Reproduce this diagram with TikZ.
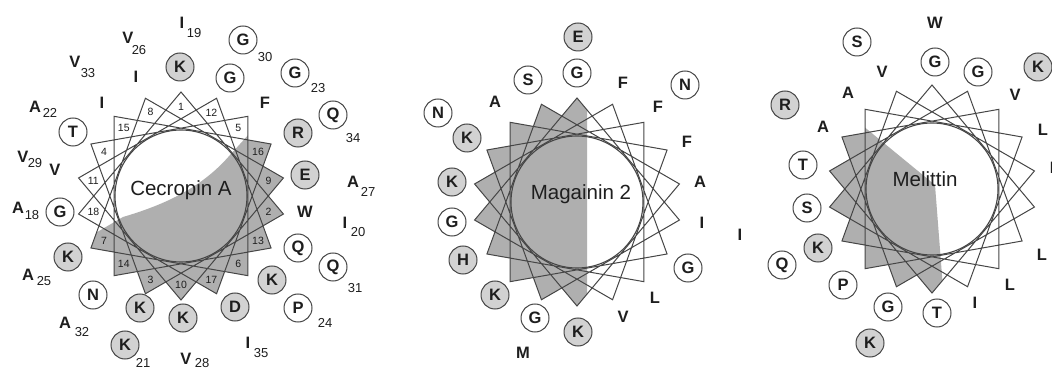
\documentclass[tikz,border=0pt]{standalone}
\usepackage{fontspec}
\setmainfont{Liberation Sans}
\definecolor{tipg}{RGB}{175,175,175}
\definecolor{resg}{RGB}{210,210,210}
\definecolor{ln}{RGB}{70,70,70}
\definecolor{tx}{RGB}{30,30,30}
\tikzset{
 resw/.style={circle,draw=ln,line width=1pt,fill=white,minimum size=28pt,inner sep=0pt,font=\fontsize{16.5}{16.5}\selectfont\bfseries,text=tx},
 resgr/.style={resw,fill=resg},
 aa/.style={inner sep=0pt,font=\fontsize{16.5}{16.5}\selectfont\bfseries,text=tx},
 sub/.style={inner sep=0pt,font=\fontsize{13}{13}\selectfont,text=tx},
 num/.style={inner sep=0pt,font=\fontsize{10.5}{10.5}\selectfont,text=tx},
 ttl/.style={inner sep=0pt,font=\fontsize{20.5}{20.5}\selectfont,text=tx},
 starline/.style={draw=ln,line width=1pt,line join=miter},
 ring/.style={draw=ln,line width=1.1pt},
}
\newcommand{\hstar}[2]{({#1},{#2-104}) \foreach \k in {1,...,17}{ -- ({#1+104*cos(90-100*\k)},{#2-104*sin(90-100*\k)}) } -- cycle}
\begin{document}
\begin{tikzpicture}[x=1pt,y=-1pt]
\clip (0,0) rectangle (1052,371);
\fill[white] (0,0) rectangle (1052,371);
% ---------------- Cecropin A ----------------
\begin{scope}
\clip (20,277) -- (123,217) .. controls (160,206) and (200,190) .. (230,155) -- (300,78) -- (400,78) -- (400,400) -- (20,400) -- cycle;
\fill[tipg] \hstar{181}{196};
\end{scope}
\draw[starline] \hstar{181}{196};
\draw[ring] (181,196) circle[radius=66pt];
\foreach \k in {0,...,17}{
  \pgfmathtruncatemacro{\n}{\k+1}
  \node[num] (cn\n) at ({181+89*cos(90-100*\k)},{196-89*sin(90-100*\k)}) {\n};
}
\node[ttl] (ctitle) at (181,190) {Cecropin A};
% circles
\node[resgr] (c1) at (180,67) {K};
\node[resw] (c30) at (243,40) {G};
\node[resw] (c12) at (230,78) {G};
\node[resw] (c23) at (295,73) {G};
\node[resw] (c34) at (333,115) {Q};
\node[resgr] (c16) at (298,133) {R};
\node[resgr] (c9) at (305,175) {E};
\node[resw] (c13) at (298,248) {Q};
\node[resw] (c31) at (333,267) {Q};
\node[resgr] (c6) at (272,280) {K};
\node[resw] (c24) at (298,308) {P};
\node[resgr] (c17) at (235,307) {D};
\node[resgr] (c10) at (183,318) {K};
\node[resgr] (c3) at (140,308) {K};
\node[resgr] (c21) at (125,345) {K};
\node[resw] (c14) at (93,295) {N};
\node[resgr] (c7) at (68,257) {K};
\node[resw] (c18) at (60,212) {G};
\node[resw] (c4) at (73,132) {T};
% plain letters
\node[aa] (c19) at (182,23) {I};
\node[aa] (c26) at (128,38) {V};
\node[aa] (c33) at (75,62) {V};
\node[aa] (c8) at (136,77) {I};
\node[aa] (c15) at (102,103) {I};
\node[aa] (c22) at (35,107) {A};
\node[aa] (c29) at (23,157) {V};
\node[aa] (c11) at (55,170) {V};
\node[aa] (c5) at (265,103) {F};
\node[aa] (c27) at (353,182) {A};
\node[aa] (c2) at (305,212) {W};
\node[aa] (c20) at (345,223) {I};
\node[aa] (cA18) at (18,208) {A};
\node[aa] (c25) at (28,275) {A};
\node[aa] (c32) at (65,323) {A};
\node[aa] (c28) at (186,359) {V};
\node[aa] (c35) at (248,343) {I};
% subscripts
\node[sub] (s19) at (194,33) {19};
\node[sub] (s26) at (139,50) {26};
\node[sub] (s33) at (88,73) {33};
\node[sub] (s22) at (50,113) {22};
\node[sub] (s29) at (35,163) {29};
\node[sub] (s30) at (265,57) {30};
\node[sub] (s23) at (318,88) {23};
\node[sub] (s34) at (353,138) {34};
\node[sub] (s27) at (368,192) {27};
\node[sub] (s20) at (358,232) {20};
\node[sub] (s18) at (32,215) {18};
\node[sub] (s25) at (44,281) {25};
\node[sub] (s32) at (82,332) {32};
\node[sub] (s31) at (355,288) {31};
\node[sub] (s24) at (325,323) {24};
\node[sub] (s21) at (143,363) {21};
\node[sub] (s28) at (202,363) {28};
\node[sub] (s35) at (261,353) {35};
% ---------------- Magainin 2 ----------------
\begin{scope}
\clip (587,0) -- (587,371) -- (400,371) -- (400,0) -- cycle;
\fill[tipg] \hstar{577}{202};
\end{scope}
\draw[starline] \hstar{577}{202};
\draw[ring] (577,202) circle[radius=66pt];
\node[ttl] (mtitle) at (581,194) {Magainin 2};
\node[resgr] (m19) at (578,37) {E};
\node[resw] (m1) at (577,73) {G};
\node[resw] (m23) at (685,85) {N};
\node[resw] (m8) at (528,80) {S};
\node[resw] (m22) at (438,113) {N};
\node[resgr] (m4) at (467,138) {K};
\node[resgr] (m11) at (452,182) {K};
\node[resw] (m18) at (452,222) {G};
\node[resgr] (m7) at (463,260) {H};
\node[resgr] (m14) at (495,295) {K};
\node[resw] (m3) at (535,318) {G};
\node[resgr] (m10) at (578,332) {K};
\node[resw] (m13) at (688,268) {G};
\node[aa] (m12) at (623,83) {F};
\node[aa] (m5) at (658,107) {F};
\node[aa] (m16) at (687,142) {F};
\node[aa] (m9) at (700,182) {A};
\node[aa] (m2) at (702,223) {I};
\node[aa] (m20) at (740,235) {I};
\node[aa] (m6) at (655,298) {L};
\node[aa] (m17) at (623,317) {V};
\node[aa] (m21) at (523,353) {M};
\node[aa] (m15) at (495,102) {A};
% ---------------- Melittin ----------------
\begin{scope}
\clip (790,66) -- (935,185) -- (947,340) -- (760,340) -- (760,66) -- cycle;
\fill[tipg] \hstar{932}{189};
\end{scope}
\draw[starline] \hstar{932}{189};
\draw[ring] (932,189) circle[radius=66pt];
\node[ttl] (ltitle) at (925,179) {Melittin};
\node[resw] (l26) at (857,42) {S};
\node[resw] (l1) at (935,62) {G};
\node[resw] (l12) at (978,72) {G};
\node[resgr] (l23) at (1038,67) {K};
\node[resgr] (l22) at (785,105) {R};
\node[resw] (l11) at (803,165) {T};
\node[resw] (l18) at (807,208) {S};
\node[resgr] (l7) at (818,248) {K};
\node[resw] (l25) at (782,265) {Q};
\node[resw] (l14) at (843,285) {P};
\node[resw] (l3) at (888,307) {G};
\node[resw] (l10) at (937,313) {T};
\node[resgr] (l21) at (870,343) {K};
\node[aa] (l19) at (935,23) {W};
\node[aa] (l8) at (882,72) {V};
\node[aa] (l15) at (848,93) {A};
\node[aa] (l5) at (1015,95) {V};
\node[aa] (l4) at (823,127) {A};
\node[aa] (l16) at (1043,130) {L};
\node[aa] (l9) at (1055,168) {L};
\node[aa] (l17) at (975,303) {I};
\node[aa] (l6) at (1010,285) {L};
\node[aa] (l13) at (1042,255) {L};
\end{tikzpicture}
\end{document}
